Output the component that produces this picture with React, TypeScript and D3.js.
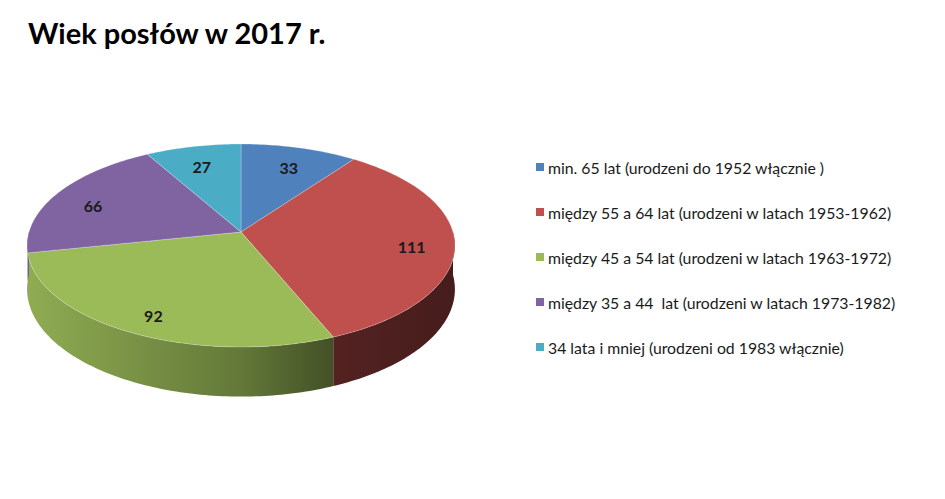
import React, { useEffect, useRef } from 'react';
import * as d3 from 'd3';

// Dane
const categories = [
  'min. 65 lat (urodzeni do 1952 włącznie )',
  'między 55 a 64 lat (urodzeni w latach 1953-1962)',
  'między 45 a 54 lat (urodzeni w latach 1963-1972)',
  'między 35 a 44  lat (urodzeni w latach 1973-1982)',
  '34 lata i mniej (urodzeni od 1983 włącznie)',
];
const values = [33, 111, 92, 66, 27];
const colors = ['#4f81bd', '#c0504d', '#9bbb59', '#8064a2', '#4bacc6'];
const title = 'Wiek posłów w 2017 r.';

const W = 945;
const H = 499;

const App: React.FC = () => {
  const svgRef = useRef<SVGSVGElement>(null);

  useEffect(() => {
    if (!svgRef.current) return;
    const svg = d3.select(svgRef.current);
    svg.selectAll('*').remove();

    // pie geometry (3D with a bit of perspective)
    const cx = 241;
    const cy = 232;
    const rx = 212;
    const ry = 99.7;
    const persp = 0.133;
    const depth = 43;

    const project = (a: number, r: number, dz = 0): [number, number] => {
      const s = 1 / (1 + persp * r * Math.cos(a));
      return [cx + rx * r * Math.sin(a) * s, cy - ry * r * Math.cos(a) * s + dz * s];
    };

    const pie = d3.pie<number>().sort(null).startAngle(0).endAngle(2 * Math.PI);
    const arcs = pie(values);

    const defs = svg.append('defs');
    // horizontal shading for the side walls
    const shade = [
      { o: 0, k: 0.92 },
      { o: 0.5, k: 0.64 },
      { o: 0.72, k: 0.43 },
      { o: 1, k: 0.36 },
    ];
    colors.forEach((c, i) => {
      const base = d3.rgb(c);
      const g = defs.append('linearGradient')
        .attr('id', `side-${i}`)
        .attr('gradientUnits', 'userSpaceOnUse')
        .attr('x1', cx - rx).attr('x2', cx + rx)
        .attr('y1', 0).attr('y2', 0);
      shade.forEach(st => {
        g.append('stop')
          .attr('offset', st.o)
          .attr('stop-color', d3.rgb(base.r * st.k, base.g * st.k, base.b * st.k).formatHex());
      });
    });

    const sample = (a0: number, a1: number) => {
      const n = Math.max(2, Math.ceil(((a1 - a0) * 180) / Math.PI));
      return d3.range(n + 1).map(j => a0 + ((a1 - a0) * j) / n);
    };
    const line = d3.line<[number, number]>();

    const gPie = svg.append('g');

    // side walls (front half only)
    const front0 = Math.PI / 2;
    const front1 = (3 * Math.PI) / 2;
    arcs.forEach((d, i) => {
      const a0 = Math.max(d.startAngle, front0);
      const a1 = Math.min(d.endAngle, front1);
      if (a0 >= a1) return;
      const angs = sample(a0, a1);
      const top = angs.map(a => project(a, 1));
      const bottom = angs.slice().reverse().map(a => project(a, 1, depth));
      gPie.append('path')
        .attr('d', line([...top, ...bottom]) + 'Z')
        .attr('fill', `url(#side-${i})`);
    });

    // top faces
    arcs.forEach((d, i) => {
      const pts = [project(0, 0), ...sample(d.startAngle, d.endAngle).map(a => project(a, 1))];
      gPie.append('path')
        .attr('d', line(pts) + 'Z')
        .attr('fill', colors[i])
        .attr('stroke', 'rgba(255,255,255,0.35)')
        .attr('stroke-width', 0.7)
        .attr('stroke-linejoin', 'round');
    });

    // value labels
    arcs.forEach(d => {
      const mid = (d.startAngle + d.endAngle) / 2;
      const [x, y] = project(mid, 0.8, 5);
      gPie.append('text')
        .attr('x', x)
        .attr('y', y)
        .attr('text-anchor', 'middle')
        .attr('dominant-baseline', 'central')
        .attr('font-family', 'Lato, "Open Sans", sans-serif')
        .attr('font-weight', 'bold')
        .attr('font-size', 16)
        .attr('fill', '#1a1a1a')
        .text(d.data);
    });

    // title
    svg.append('text')
      .attr('x', 28)
      .attr('y', 44)
      .attr('font-family', 'Lato, "Open Sans", sans-serif')
      .attr('font-weight', 'bold')
      .attr('font-size', 29)
      .attr('fill', '#000')
      .text(title);

    // legend
    const yLegend = d3.scalePoint<string>().domain(categories).range([167, 347]);
    const gLeg = svg.append('g');
    categories.forEach((c, i) => {
      const y = yLegend(c)!;
      gLeg.append('rect')
        .attr('x', 536).attr('y', y - 4)
        .attr('width', 8).attr('height', 8)
        .attr('fill', colors[i]);
      gLeg.append('text')
        .attr('x', 548)
        .attr('y', y)
        .attr('dominant-baseline', 'central')
        .attr('font-family', 'Lato, "Open Sans", sans-serif')
        .attr('font-size', 15.8)
        .attr('fill', '#1a1a1a')
        .style('white-space', 'pre')
        .text(c);
    });
  }, []);

  return (
    <svg
      ref={svgRef}
      width={W}
      height={H}
      style={{ position: 'absolute', left: 0, top: 0, background: '#fff' }}
    />
  );
};

export default App;
